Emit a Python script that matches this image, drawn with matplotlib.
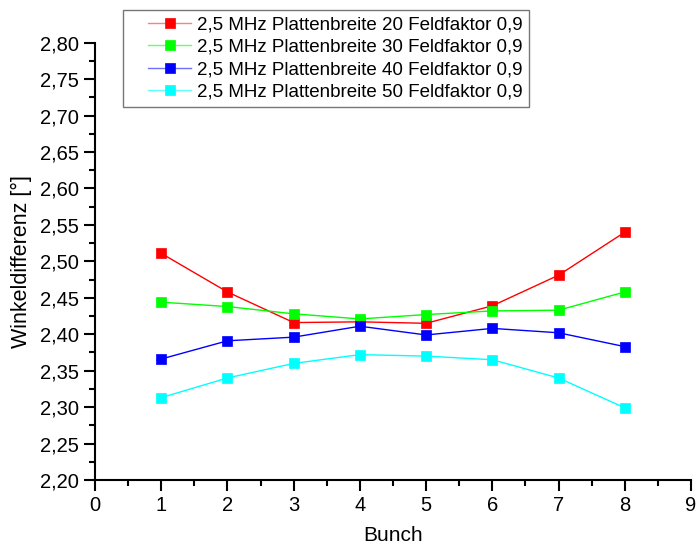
import matplotlib
matplotlib.use("Agg")
import matplotlib.pyplot as plt
from matplotlib.ticker import MultipleLocator, FuncFormatter
from matplotlib.legend_handler import HandlerLine2D
from matplotlib.lines import Line2D

plt.rcParams['font.family'] = ['Liberation Sans', 'DejaVu Sans']

bunch = [1, 2, 3, 4, 5, 6, 7, 8]
labels = ["2,5 MHz Plattenbreite 20 Feldfaktor 0,9",
          "2,5 MHz Plattenbreite 30 Feldfaktor 0,9",
          "2,5 MHz Plattenbreite 40 Feldfaktor 0,9",
          "2,5 MHz Plattenbreite 50 Feldfaktor 0,9"]
pb20 = [2.511, 2.458, 2.416, 2.417, 2.415, 2.439, 2.481, 2.540]
pb30 = [2.444, 2.438, 2.428, 2.421, 2.427, 2.432, 2.433, 2.458]
pb40 = [2.366, 2.391, 2.396, 2.411, 2.399, 2.408, 2.402, 2.383]
pb50 = [2.313, 2.340, 2.360, 2.372, 2.370, 2.365, 2.340, 2.299]
colors = ["#ff0000", "#00ff00", "#0000ff", "#00ffff"]
legend_line_colors = ["#ff8080", "#66ff66", "#7070ff", "#66ffff"]

fig = plt.figure(figsize=(6.96, 5.51), dpi=100)
ax = fig.add_axes([95/696, 1-480/551, 596/696, (480-42.7)/551])

for ys, c, lab in zip([pb20, pb30, pb40, pb50], colors, labels):
    ax.plot(bunch, ys, color=c, lw=1.0, marker='s', markersize=7.5,
            markerfacecolor=c, markeredgecolor=c, markeredgewidth=0.5, label=lab)

ax.set_xlim(0, 9)
ax.set_ylim(2.20, 2.80)
ax.xaxis.set_major_locator(MultipleLocator(1))
ax.xaxis.set_minor_locator(MultipleLocator(0.5))
ax.yaxis.set_major_locator(MultipleLocator(0.05))
ax.yaxis.set_minor_locator(MultipleLocator(0.025))
ax.yaxis.set_major_formatter(FuncFormatter(lambda v, p: f"{v:.2f}".replace('.', ',')))
ax.xaxis.set_major_formatter(FuncFormatter(lambda v, p: f"{v:.0f}"))

for s in ['top', 'right']:
    ax.spines[s].set_visible(False)
for s in ['left', 'bottom']:
    ax.spines[s].set_linewidth(1.5)
ax.tick_params(which='major', direction='out', length=8, width=1.5, labelsize=14.5, pad=3.5)
ax.tick_params(which='minor', direction='out', length=4, width=1.5)

ax.set_xlabel("Bunch", fontsize=15, labelpad=8)
ax.set_ylabel("Winkeldifferenz [°]", fontsize=15.5, labelpad=6)

leg = ax.legend(loc='upper left', bbox_to_anchor=(0.047, 1.075), borderaxespad=0,
                fontsize=13.5, frameon=True, fancybox=False, handlelength=3.27,
                labelspacing=0.28, borderpad=0.35, handletextpad=0.32,
                handler_map={Line2D: HandlerLine2D(xpad=1.0)})
leg.get_frame().set_edgecolor('#555555')
leg.get_frame().set_linewidth(1.0)
for h, lc in zip(leg.get_lines(), legend_line_colors):
    h.set_color(lc)

fig.savefig("out.png", dpi=100)
